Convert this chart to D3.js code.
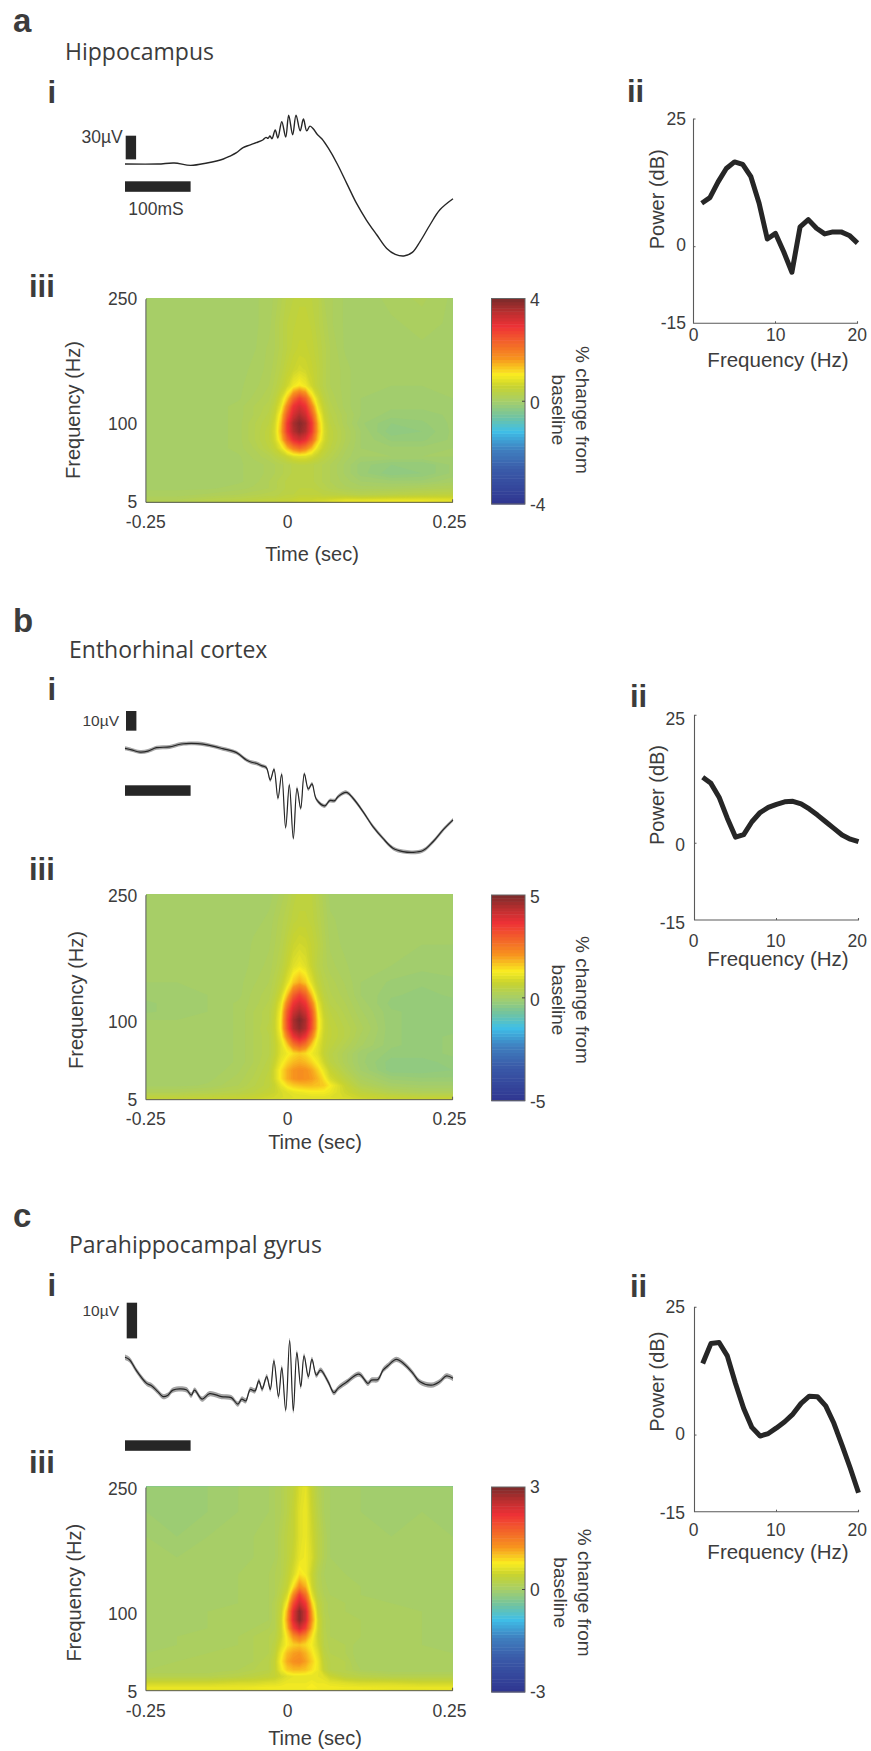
<!DOCTYPE html>
<html>
<head>
<meta charset="utf-8">
<script src="https://cdnjs.cloudflare.com/ajax/libs/d3/7.8.5/d3.min.js"></script>
<style>
  html, body { margin: 0; padding: 0; background: #fff; }
  svg { display: block; }
  text { font-family: "Liberation Sans", Arial, sans-serif; fill: #3c3c3c; }
</style>
</head>
<body>
<div id="chart"></div>
<script>
// spectrogram grid, shared by the three panels
const gridTimes = [-0.25,-0.2,-0.15,-0.1,-0.075,-0.05,-0.04,-0.03,-0.02,-0.01,0,0.01,0.02,0.03,0.04,0.05,0.075,0.1,0.15,0.2,0.25];
const gridFreqs = [250,220,190,165,145,130,120,110,100,90,80,70,60,50,40,30,22,14,8,5];

// % change from baseline, read by eye. rows follow gridFreqs, columns gridTimes
const hippoGrid = [
  [0,0,0,0,.05,.1,.15,.25,.35,.4,.45,.45,.4,.35,.2,.15,.05,0,.1,.15,.05],
  [0,0,0,0,.05,.1,.2,.3,.4,.45,.5,.5,.45,.35,.25,.15,.05,0,.05,.1,.05],
  [0,0,0,0,.05,.15,.2,.3,.4,.5,.55,.55,.5,.4,.3,.2,.05,0,0,.05,.05],
  [0,0,0,0,.1,.15,.25,.35,.5,.6,.7,.65,.55,.45,.3,.2,.1,0,0,0,0],
  [0,0,0,.05,.1,.2,.3,.45,.65,.95,1.1,.95,.65,.45,.3,.2,.1,0,0,0,0],
  [0,0,0,.05,.15,.25,.4,.7,1.3,2.2,2.7,2.3,1.3,.7,.4,.25,.1,0,-.05,-.05,0],
  [0,0,0,.1,.2,.3,.5,.9,1.9,2.9,3.2,2.9,1.9,.9,.5,.3,.1,0,-.05,-.05,0],
  [0,0,0,.1,.2,.35,.6,1.2,2.4,3.2,3.55,3.25,2.4,1.2,.6,.35,.15,0,-.1,-.1,-.05],
  [0,0,0,.1,.25,.4,.7,1.4,2.8,3.6,3.9,3.65,2.85,1.45,.7,.4,.15,-.05,-.2,-.15,-.05],
  [0,0,0,.1,.25,.45,.75,1.5,2.8,3.5,3.8,3.55,2.8,1.5,.75,.45,.2,0,-.25,-.2,-.05],
  [0,0,0,.1,.25,.45,.7,1.3,2.3,3,3.25,3,2.3,1.3,.7,.45,.2,0,-.15,-.15,-.05],
  [0,0,0,.1,.2,.4,.55,.85,1.4,1.9,2.2,1.9,1.4,.85,.55,.4,.15,0,-.05,-.05,0],
  [0,0,0,.05,.15,.25,.35,.45,.6,.75,.8,.8,.7,.55,.4,.3,.1,0,0,0,0],
  [0,0,0,.05,.1,.15,.2,.25,.3,.35,.4,.4,.35,.3,.25,.2,.05,-.1,-.2,-.2,-.05],
  [0,0,0,.05,.1,.15,.2,.25,.3,.35,.4,.4,.35,.3,.25,.2,.05,-.1,-.25,-.2,-.05],
  [0,0,0,.05,.1,.2,.25,.3,.35,.35,.4,.4,.35,.3,.25,.2,.1,0,-.05,-.05,.05],
  [.05,.05,.05,.1,.15,.2,.25,.3,.35,.35,.4,.4,.4,.35,.3,.25,.15,.1,.1,.15,.2],
  [.1,.1,.15,.2,.25,.3,.3,.35,.4,.4,.45,.45,.45,.45,.4,.4,.35,.3,.35,.4,.45],
  [.2,.2,.3,.35,.4,.45,.45,.5,.5,.55,.6,.6,.6,.65,.65,.7,.8,.8,.85,.85,.8],
  [.3,.3,.4,.45,.5,.55,.55,.6,.6,.65,.7,.7,.75,.75,.8,.85,1,1,1.05,1.05,.9]
];
const entoGrid = [
  [0,0,0,0,0,.05,.1,.2,.3,.45,.55,.55,.5,.35,.2,.05,0,0,0,0,0],
  [0,0,0,0,.05,.1,.2,.3,.4,.55,.6,.6,.55,.4,.25,.1,.05,0,0,0,0],
  [0,0,0,0,.1,.15,.25,.35,.55,.75,.85,.8,.65,.5,.3,.15,.05,0,0,0,0],
  [0,0,0,.05,.1,.2,.3,.45,.7,1,1.15,1,.7,.45,.3,.2,.1,0,0,-.05,-.05],
  [0,0,0,.05,.15,.25,.4,.6,1,1.6,1.9,1.6,1,.6,.4,.3,.15,0,-.1,-.15,-.1],
  [-.05,-.05,0,.05,.2,.3,.5,.85,1.7,2.9,3.4,2.9,1.7,.85,.5,.35,.2,0,-.15,-.2,-.15],
  [-.1,-.05,0,.1,.2,.35,.6,1.1,2.4,3.6,4,3.6,2.4,1.1,.6,.4,.25,.05,-.2,-.25,-.2],
  [-.1,-.05,0,.1,.25,.4,.7,1.3,3,4.1,4.5,4.1,3,1.3,.7,.5,.3,.1,-.15,-.2,-.2],
  [0,0,0,.1,.25,.4,.75,1.4,3.2,4.5,4.95,4.5,3.2,1.45,.8,.55,.35,.15,-.15,-.2,-.2],
  [0,0,0,.1,.25,.45,.75,1.4,3.1,4.4,4.8,4.4,3.1,1.45,.8,.6,.4,.2,-.15,-.2,-.2],
  [0,0,0,.1,.25,.4,.7,1.2,2.4,3.6,4.1,3.6,2.4,1.25,.75,.6,.4,.15,-.15,-.2,-.15],
  [0,0,0,.1,.25,.4,.65,1,1.6,2.5,2.9,2.5,1.6,1.05,.7,.55,.3,.1,-.15,-.2,-.15],
  [0,0,0,.1,.25,.4,.65,1,1.2,1.45,1.6,1.45,1.2,1,.65,.45,.2,-.05,-.2,-.2,-.15],
  [0,0,0,.1,.25,.45,.75,1.15,1.5,1.75,1.85,1.75,1.5,1.2,.8,.5,.2,-.05,-.3,-.3,-.2],
  [0,0,0,.15,.3,.5,.9,1.4,1.85,2.1,2.2,2.15,1.95,1.55,1.1,.7,.3,0,-.3,-.3,-.25],
  [0,0,.05,.2,.35,.55,.9,1.4,1.85,2.1,2.2,2.15,2.05,1.8,1.4,.9,.5,.15,-.1,-.15,-.15],
  [.05,.05,.1,.25,.4,.55,.75,1.1,1.4,1.6,1.7,1.75,1.75,1.7,1.6,1.3,.7,.3,.05,0,0],
  [.25,.25,.3,.4,.5,.65,.75,.9,1,1.1,1.15,1.2,1.25,1.25,1.25,1.15,.8,.55,.3,.2,.2],
  [.55,.55,.6,.65,.7,.8,.85,.9,.95,1,1,1,1.05,1.05,1.05,1,.9,.75,.65,.6,.6],
  [.7,.75,.8,.8,.85,.9,.9,.95,1,1,1.05,1.05,1.1,1.1,1.1,1.05,1,.9,.8,.8,.85]
];
const paraGrid = [
  [-.05,-.1,-.05,0,0,.05,.1,.15,.25,.35,.55,.65,.4,.2,.1,.05,0,0,-.05,-.05,-.05],
  [-.05,-.1,-.05,0,0,.05,.1,.15,.25,.4,.6,.7,.45,.25,.1,.05,0,0,-.05,0,-.05],
  [0,-.05,0,0,.05,.05,.1,.2,.3,.4,.6,.7,.5,.3,.15,.05,0,0,0,0,0],
  [0,0,0,0,.05,.05,.1,.2,.3,.45,.65,.72,.55,.3,.15,.05,0,0,0,0,0],
  [0,0,0,.05,.05,.1,.15,.2,.35,.55,.85,.75,.45,.2,.1,.05,.05,0,0,0,0],
  [0,0,0,.05,.05,.1,.15,.25,.4,.85,1.35,1.1,.5,.22,.12,.08,.05,.05,0,0,0],
  [0,0,0,.05,.05,.1,.15,.3,.55,1.35,2.1,1.6,.65,.28,.15,.1,.05,.05,0,0,0],
  [0,0,0,.05,.05,.1,.2,.35,.8,1.9,2.5,2.1,.95,.35,.2,.12,.1,.05,.05,0,0],
  [0,0,.05,.05,.05,.1,.2,.4,1.1,2.3,2.9,2.45,1.2,.42,.2,.12,.1,.05,.05,.05,0],
  [0,0,.05,.05,.05,.1,.2,.45,1.2,2.35,2.9,2.45,1.3,.5,.22,.15,.1,.1,.05,.05,0],
  [0,0,.05,.05,.1,.15,.2,.45,1.05,2,2.45,2.05,1.1,.5,.22,.15,.15,.1,.05,.05,0],
  [0,.05,.05,.1,.15,.2,.25,.45,.85,1.3,1.55,1.3,.85,.45,.25,.15,.15,.1,.05,.05,0],
  [0,.05,.05,.1,.15,.2,.3,.55,.8,.95,1,.9,.75,.5,.25,.18,.15,.05,.05,.05,0],
  [.05,.05,.1,.1,.15,.2,.35,.7,1.05,1.2,1.25,1.1,.85,.6,.3,.2,.15,.05,.05,.05,.05],
  [.05,.1,.1,.15,.15,.25,.4,.8,1.15,1.3,1.35,1.2,.95,.7,.35,.25,.2,.05,.05,.05,.05],
  [.1,.1,.1,.15,.2,.25,.4,.7,.95,1.05,1.05,1,.85,.7,.4,.25,.2,.1,.05,.05,.05],
  [.2,.2,.2,.25,.3,.35,.4,.5,.6,.65,.65,.65,.65,.65,.6,.45,.3,.25,.2,.2,.2],
  [.5,.5,.5,.55,.55,.6,.6,.65,.7,.7,.7,.7,.75,.7,.7,.65,.6,.55,.55,.5,.5],
  [.7,.7,.7,.7,.72,.75,.75,.75,.75,.75,.75,.75,.8,.75,.75,.75,.72,.72,.7,.7,.7],
  [.55,.55,.55,.55,.55,.6,.6,.6,.6,.6,.6,.6,.6,.6,.6,.6,.55,.55,.55,.55,.6]
];

// averaged field potentials: time in ms, amplitude in uV
const hippoMs = [-250,-200,-175,-150,-125,-100,-90,-80,-70,-60,-50,-40,-35,-32,-29,-26,-21,-17,-11,-5,-0.5,5.6,10.7,17,22,27,32,37.6,42.6,50,60,73,88,103,118,134,149,162,175,188,200,215,230,250];
const hippoUv = [0,0,1.3,-1.7,1.3,6.3,10,14.4,20.7,24,27,30.4,33.8,32.5,35.5,32,43,33,53.6,34,62,37,62,42,57,42,48,44,38,32,20,1,-24.5,-50,-71,-90,-107,-114.5,-116.6,-112,-98,-77,-58,-44];
const entoMs = [-250,-240,-227,-215,-202,-182,-164,-139,-121,-101,-80,-65,-57,-50,-42,-34.6,-28.5,-22.9,-16.8,-11.2,-5.1,0.5,6.6,12.2,17.8,23.4,29.5,35,41.7,54.4,62,69.6,74.7,87.4,97.6,112.8,128,143.3,158.5,173.8,189,204.3,219.5,234.8,250];
const entoUv = [0,-0.8,-1.9,-1.4,0.3,0.7,2.2,2.4,1.5,-0.2,-2.2,-5.9,-7.1,-7.6,-8.8,-9.8,-16.1,-10.7,-25.4,-13.2,-40.3,-18.6,-45.8,-20.3,-30.5,-13,-20.7,-18.1,-25.9,-29.3,-26.6,-26.6,-24.6,-22.4,-25.4,-32.2,-39.8,-45.8,-50.8,-52.5,-52.9,-52,-47.5,-41.5,-36.4];
const paraMs = [-250,-243,-233,-217,-210,-200,-192,-184.5,-177,-156.5,-149,-144,-132.6,-121,-103,-88,-78,-72,-66,-59,-52,-46,-41,-34,-28.5,-23,-16,-11,-5,1,6.6,12,18,23,29.5,35,41.7,48,59.5,68.6,74.7,87.4,106.7,120.4,125.5,135.7,143.3,151,163.6,176.3,189,199,217,229.7,240,250];
const paraUv = [0,-0.7,-3.6,-7.3,-7.9,-9.6,-11,-10.6,-9.2,-9.1,-10.6,-9.2,-11.7,-10.2,-11,-11.3,-13.1,-11.7,-12.2,-9,-9.4,-6.6,-8.9,-5.4,-9,-1,-11,-2.9,-14.8,4.7,-15,1.3,-8.2,0.4,-5.4,-0.6,-5,-3.6,-6.8,-9.9,-8.7,-7,-4.7,-7.3,-6.4,-6.2,-3.6,-2.3,-0.6,-2,-4.5,-6.8,-7.8,-6.8,-5.2,-5.9];

// power spectra, one value per Hz
const spectrumHz = d3.range(1, 21);
const hippoPower = [8.5,9.6,12.7,15.3,16.6,16.1,13.7,8.5,1.5,2.6,-1,-5,3.9,5.3,3.6,2.5,2.9,2.9,2.2,0.7];
const entoPower = [12.9,11.7,9,4.9,1.2,1.7,4.2,6,7,7.6,8.1,8.2,7.7,6.7,5.5,4.2,2.9,1.6,0.8,0.3];
const paraPower = [14,17.9,18.1,15.5,10.1,5.2,1.5,-0.2,0.3,1.4,2.6,4.1,6.2,7.6,7.5,5.7,2.3,-2,-6.5,-11.3];

const panelLetters = ["a", "b", "c"];
const regionNames = ["Hippocampus", "Enthorhinal cortex", "Parahippocampal gyrus"];
const powerTicks = [25, 0, -15];
const hzTicks = [0, 10, 20];
const freqTicks = [250, 100, 5];
const timeTicks = ["-0.25", "0", "0.25"];

// colours of the colorbar from bottom to top
const barStops = [-1,-.67,-.47,-.29,-.16,0,.15,.26,.42,.73,.85,1];
const barColors = ["#2f3590","#3a5aa8","#3f7fbf","#3fbfe8","#6dc3a5","#a5ce6a","#c8d32f","#f9ed21","#f7941e","#ee3136","#c22f30","#7a2a2a"];
const color = d3.scaleLinear().domain(barStops).range(barColors).clamp(true);

const axisColor = "#5a5a5a";
const inkColor = "#262626";

// hand placed layout of each panel, all pixels
const panels = [
  { grid: hippoGrid, range: 4, ms: hippoMs, uv: hippoUv, power: hippoPower, barUv: 30, barLabel: "30µV", barLabelSize: 17.5,
    letterY: 32, titleX: 65, titleY: 60, iY: 102.7, iiX: 627, iiY: 102.3, iiiY: 296.7,
    zeroY: 164, uvPx: 0.789, sem: 0, vBar: [125.7, 135.7], vBarLabelY: 143.3, vBarLabelX: 122.7, hBarY: 181.3, hLabel: "100mS",
    heatTop: 298.3, heatBot: 502.3, barTop: 298.5, barBot: 504,
    freqTickY: [299, 424.3, 501.7], barTickY: [300, 402.7, 505], timeTickY: 521.7, timeLabel: [312, 554], freqLabelX: 73, cbTextX: [582, 558], midY: 410,
    specTop: 119, specBot: 323.3, specTickY: [119.3, 245, 323.3], hzTickY: 335, hzLabelY: 359, powerY: 199.3, xAxis: [693.5, 857.5], tickRight: 686 },
  { grid: entoGrid, range: 5, ms: entoMs, uv: entoUv, power: entoPower, barUv: 10, barLabel: "10µV", barLabelSize: 15.5,
    letterY: 632, titleX: 69, titleY: 657.7, iY: 700, iiX: 630, iiY: 706.7, iiiY: 880,
    zeroY: 748.3, uvPx: 1.967, sem: 1, vBar: [126, 711], vBarLabelY: 726, vBarLabelX: 119, hBarY: 785.3, hLabel: "",
    heatTop: 894.3, heatBot: 1099.7, barTop: 895, barBot: 1100.7,
    freqTickY: [895.7, 1021.7, 1100], barTickY: [896.7, 1000, 1101.7], timeTickY: 1119, timeLabel: [315, 1142.3], freqLabelX: 75.5, cbTextX: [582, 558], midY: 1000,
    specTop: 715.3, specBot: 920, specTickY: [719.3, 845, 923.3], hzTickY: 940.7, hzLabelY: 958, powerY: 795, xAxis: [694.5, 858.5], tickRight: 685 },
  { grid: paraGrid, range: 3, ms: paraMs, uv: paraUv, power: paraPower, barUv: 10, barLabel: "10µV", barLabelSize: 15.5,
    letterY: 1227, titleX: 69, titleY: 1252.7, iY: 1295.7, iiX: 630, iiY: 1296.7, iiiY: 1473,
    zeroY: 1357.3, uvPx: 3.57, sem: 0.75, vBar: [126.7, 1302.7], vBarLabelY: 1315.7, vBarLabelX: 119, hBarY: 1440.3, hLabel: "",
    heatTop: 1486.7, heatBot: 1690.7, barTop: 1487, barBot: 1692,
    freqTickY: [1489, 1614, 1692.3], barTickY: [1486.7, 1590, 1691.7], timeTickY: 1710.7, timeLabel: [315, 1738.3], freqLabelX: 74, cbTextX: [584, 560], midY: 1592.7,
    specTop: 1307.3, specBot: 1511.7, specTickY: [1307.3, 1434, 1512.7], hzTickY: 1530, hzLabelY: 1551, powerY: 1381.7, xAxis: [694.5, 858.5], tickRight: 685 }
];

const svg = d3.select("#chart").append("svg")
    .attr("width", 871)
    .attr("height", 1751)
    .attr("viewBox", [0, 0, 871, 1751]);

const heatX = d3.scaleLinear().domain([-0.25, 0.25]).range([146.4, 452.6]);
const barX = [491.5, 525];
const timeTickX = [145.8, 287.5, 449.5];
const hzTickX = [693.5, 775.7, 857.3];
const traceX = d3.scaleLinear().domain([-250, 250]).range([125, 453]);

function label(g, x, y, str, size, anchor, rotate) {
    const t = g.append("text")
        .attr("text-anchor", anchor || "middle")
        .attr("dominant-baseline", "central")
        .attr("font-size", size)
        .text(str);
    if (rotate) t.attr("transform", `translate(${x},${y}) rotate(${rotate})`);
    else t.attr("x", x).attr("y", y);
    return t;
}

panels.forEach((p, idx) => {
    const g = svg.append("g");

    g.append("text").attr("x", 13).attr("y", p.letterY)
        .attr("font-size", 33).attr("font-weight", "bold").attr("fill", "#333").text(panelLetters[idx]);
    g.append("text").attr("x", p.titleX).attr("y", p.titleY)
        .style("font-family", '"Open Sans", sans-serif').attr("font-size", 23).text(regionNames[idx]);

    [["i", 47.5, p.iY], ["ii", p.iiX, p.iiY], ["iii", 29, p.iiiY]].forEach(d => {
        g.append("text").attr("x", d[1]).attr("y", d[2])
            .attr("font-size", 31).attr("font-weight", "bold").attr("fill", "#333").text(d[0]);
    });

    // scale bars + trace
    const y = d3.scaleLinear().domain([0, 1]).range([p.zeroY, p.zeroY - p.uvPx]);
    g.append("rect").attr("x", p.vBar[0]).attr("y", p.vBar[1]).attr("width", 10.4)
        .attr("height", y(0) - y(p.barUv)).attr("fill", inkColor);
    g.append("rect").attr("x", traceX(-250)).attr("y", p.hBarY)
        .attr("width", traceX(-150) - traceX(-250)).attr("height", 10.5).attr("fill", inkColor);
    g.append("text").attr("x", p.vBarLabelX).attr("y", p.vBarLabelY).attr("text-anchor", "end")
        .attr("font-size", p.barLabelSize).text(p.barLabel);
    if (p.hLabel) {
        g.append("text").attr("x", 156).attr("y", 215).attr("text-anchor", "middle")
            .attr("font-size", 17.5).text(p.hLabel);
    }

    const curve = d3.curveCatmullRom.alpha(0.5);
    const line = d3.line().x((d, i) => traceX(p.ms[i])).y(d => y(d)).curve(curve);
    if (p.sem) {
        const band = d3.area().x((d, i) => traceX(p.ms[i]))
            .y0(d => y(d - p.sem)).y1(d => y(d + p.sem)).curve(curve);
        g.append("path").attr("d", band(p.uv)).attr("fill", "#a4a4a4");
    }
    g.append("path").attr("d", line(p.uv)).attr("fill", "none")
        .attr("stroke", "#262626").attr("stroke-width", p.sem ? 1.2 : 1.4).attr("stroke-linejoin", "round");

    // spectrogram as filled contours
    const heatY = d3.scaleLinear().domain([250, 5]).range([p.heatTop, p.heatBot]);
    const colPx = d3.scaleLinear().domain(d3.range(gridTimes.length)).range(gridTimes.map(heatX)).clamp(true);
    const rowPx = d3.scaleLinear().domain(d3.range(gridFreqs.length)).range(gridFreqs.map(heatY)).clamp(true);
    const step = 1 / 60;
    const thresholds = d3.range(-1, 1, step).map(d => d * p.range);
    const contours = d3.contours()
        .size([gridTimes.length, gridFreqs.length])
        .thresholds(thresholds)(p.grid.flat());
    const proj = d3.geoTransform({
        point(px, py) { this.stream.point(colPx(px - 0.5), rowPx(py - 0.5)); }
    });
    g.append("rect").attr("x", heatX(-0.25)).attr("y", p.heatTop)
        .attr("width", heatX(0.25) - heatX(-0.25)).attr("height", p.heatBot - p.heatTop)
        .attr("fill", color(0));
    g.append("g").selectAll("path").data(contours).join("path")
        .attr("d", d3.geoPath(proj))
        .attr("fill", d => color(d.value / p.range + step / 2));

    g.append("path")
        .attr("d", `M${heatX(-0.25)},${p.heatTop + 1}H${heatX(-0.25) - 0.5}V${p.heatBot}H${heatX(0.25)}V${p.heatBot - 3}`)
        .attr("fill", "none").attr("stroke", axisColor).attr("stroke-width", 1);

    freqTicks.forEach((f, i) => label(g, 137.3, p.freqTickY[i], f, 17.5, "end"));
    timeTicks.forEach((t, i) => label(g, timeTickX[i], p.timeTickY, t, 17.5));
    label(g, p.timeLabel[0], p.timeLabel[1], "Time (sec)", 20);
    label(g, p.freqLabelX, p.midY, "Frequency (Hz)", 20, "middle", -90);

    // colorbar
    const cbY = d3.scaleLinear().domain([-p.range, p.range]).range([p.barBot, p.barTop]);
    const cbSteps = d3.range(-1, 1, 1 / 32);
    g.append("g").selectAll("rect").data(cbSteps).join("rect")
        .attr("x", barX[0]).attr("width", barX[1] - barX[0])
        .attr("y", d => cbY((d + 1 / 32) * p.range))
        .attr("height", d => cbY(d * p.range) - cbY((d + 1 / 32) * p.range) + 0.5)
        .attr("fill", d => color(d + 1 / 64));
    g.append("rect").attr("x", barX[0]).attr("y", p.barTop)
        .attr("width", barX[1] - barX[0]).attr("height", p.barBot - p.barTop)
        .attr("fill", "none").attr("stroke", "#666").attr("stroke-width", 1);
    g.append("line").attr("x1", barX[1] - 3).attr("x2", barX[1]).attr("y1", cbY(0)).attr("y2", cbY(0))
        .attr("stroke", "#444");
    [p.range, 0, -p.range].forEach((v, i) => label(g, 530, p.barTickY[i], v, 17.5, "start"));
    label(g, p.cbTextX[0], p.midY, "% change from", 19, "middle", 90);
    label(g, p.cbTextX[1], p.midY, "baseline", 19, "middle", 90);

    // spectrum
    const sx = d3.scaleLinear().domain([0, 20]).range(p.xAxis);
    const sy = d3.scaleLinear().domain([25, 0, -15]).range([p.specTop, p.specTop + (p.specBot - p.specTop) * 25 / 40, p.specBot]);
    g.append("path")
        .attr("d", `M${sx(0) + 2},${sy(25)}H${sx(0)}V${sy(-15)}H${sx(20)}V${sy(-15) - 2}`)
        .attr("fill", "none").attr("stroke", axisColor).attr("stroke-width", 1.1);
    g.append("line").attr("x1", sx(0)).attr("x2", sx(0) + 2).attr("y1", sy(0)).attr("y2", sy(0)).attr("stroke", axisColor);
    g.append("line").attr("x1", sx(10)).attr("x2", sx(10)).attr("y1", sy(-15)).attr("y2", sy(-15) - 2).attr("stroke", axisColor);
    g.append("path")
        .attr("d", d3.line().x((d, i) => sx(spectrumHz[i])).y(d => sy(d))(p.power))
        .attr("fill", "none").attr("stroke", inkColor).attr("stroke-width", 5).attr("stroke-linejoin", "round");
    powerTicks.forEach((v, i) => label(g, p.tickRight, p.specTickY[i], v, 17.5, "end"));
    hzTicks.forEach((v, i) => label(g, hzTickX[i], p.hzTickY, v, 17.5));
    label(g, 778, p.hzLabelY, "Frequency (Hz)", 20.5);
    label(g, 656.7, p.powerY, "Power (dB)", 20, "middle", -90);
});
</script>
</body>
</html>
